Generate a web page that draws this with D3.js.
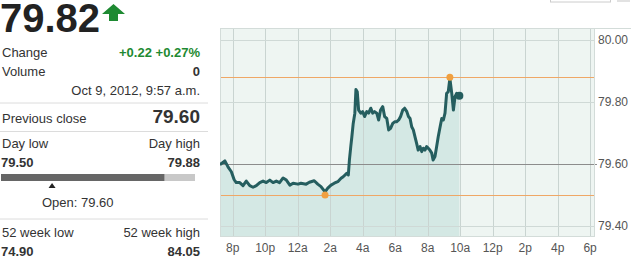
<!DOCTYPE html>
<html>
<head>
<meta charset="utf-8">
<script src="https://cdn.jsdelivr.net/npm/d3@7"></script>
<style>
body { margin: 0; background: #fff; }
svg { display: block; font-family: "Liberation Sans", Arial, sans-serif; }
</style>
</head>
<body>
<div id="canvas"></div>
<script>
// intraday quote, Oct 8 evening -> Oct 9 2012 morning
var times = ["08 19:13","08 19:16","08 19:31","08 19:43","08 19:55","08 20:05","08 20:13","08 20:26","08 20:38","08 20:50",
    "08 21:03","08 21:15","08 21:27","08 21:40","08 21:52","08 22:04","08 22:17","08 22:29","08 22:41","08 22:53",
    "08 23:06","08 23:18","08 23:31","08 23:43","09 00:01","09 00:12","09 00:31","09 00:43","09 01:01","09 01:14",
    "09 01:26","09 01:41","09 01:51","09 02:03","09 02:15","09 02:28","09 02:40","09 02:48","09 03:01","09 03:07",
    "09 03:11","09 03:16","09 03:20","09 03:25","09 03:31","09 03:35","09 03:40","09 03:45","09 03:53","09 04:00",
    "09 04:07","09 04:15","09 04:22","09 04:30","09 04:37","09 04:44","09 04:52","09 04:59","09 05:06","09 05:14",
    "09 05:21","09 05:29","09 05:36","09 05:43","09 05:51","09 05:58","09 06:05","09 06:13","09 06:20","09 06:28",
    "09 06:35","09 06:43","09 06:49","09 06:55","09 07:01","09 07:07","09 07:13","09 07:19","09 07:25","09 07:32",
    "09 07:38","09 07:44","09 07:50","09 07:56","09 08:02","09 08:08","09 08:15","09 08:20","09 08:27","09 08:33",
    "09 08:39","09 08:46","09 08:52","09 08:58","09 09:04","09 09:10","09 09:16","09 09:22","09 09:29","09 09:35",
    "09 09:41","09 09:47","09 09:57"]
var prices = [79.60,79.60,79.61,79.59,79.575,79.55,79.54,79.54,79.53,79.545,
    79.53,79.525,79.53,79.54,79.545,79.54,79.548,79.54,79.545,79.54,
    79.555,79.548,79.532,79.538,79.535,79.538,79.535,79.541,79.546,79.535,
    79.527,79.51,79.522,79.532,79.538,79.543,79.554,79.559,79.57,79.565,
    79.613,79.656,79.688,79.731,79.764,79.84,79.833,79.774,79.764,79.769,
    79.753,79.769,79.764,79.78,79.764,79.769,79.764,79.742,79.774,79.785,
    79.753,79.747,79.71,79.715,79.731,79.736,79.736,79.742,79.753,79.774,
    79.78,79.769,79.753,79.747,79.72,79.71,79.688,79.667,79.645,79.656,
    79.64,79.651,79.645,79.656,79.651,79.645,79.635,79.613,79.624,79.656,
    79.688,79.72,79.747,79.742,79.764,79.828,79.833,79.876,79.828,79.774,
    79.817,79.828,79.82]

var timeDomain = ["08 19:13", "09 18:18"]
var yTicks = [80.00, 79.80, 79.60, 79.40]
var lowTime = "09 01:41"
var highTime = "09 09:22"

var last = 79.82
var change = "+0.22"
var changePct = "+0.27%"
var volume = "0"
var stamp = "Oct 9, 2012, 9:57 a.m."
var prevClose = 79.60
var dayLow = 79.50
var dayHigh = 79.88
var openPrice = 79.60
var weekLow = 74.90
var weekHigh = 84.05

var width = 631
var height = 259
var plot = { left: 220, right: 595, top: 28, bottom: 237 }

var parse = function (s) { return d3.timeParse("%Y-%m-%d %H:%M")("2012-10-" + s) }
var data = times.map(function (t, i) { return { date: parse(t), price: prices[i] } })

var svg = d3.select("#canvas")
    .append("svg")
    .attr("width", width)
    .attr("height", height)

// ---- left panel ----
var panel = svg.append("g")
var ink = "#333"
var green = "#1e8a32"
var rightEdge = 200

panel.append("text").attr("x", 0).attr("y", 32)
    .attr("font-size", 40).attr("font-weight", "bold").attr("fill", "#222")
    .text(last.toFixed(2))

panel.append("path")
    .attr("d", "M113.5,4 L125,14 L118,14 L118,21 L109,21 L109,14 L102,14 Z")
    .attr("fill", green)

function row(y, label, value, opts) {
    opts = opts || {}
    if (label) {
        panel.append("text").attr("x", 2).attr("y", y)
            .attr("font-size", 13).attr("fill", ink).text(label)
    }
    panel.append("text").attr("x", rightEdge).attr("y", y)
        .attr("text-anchor", "end")
        .attr("font-size", opts.size || 13)
        .attr("font-weight", opts.bold ? "bold" : "normal")
        .attr("fill", opts.color || ink)
        .text(value)
}

row(57, "Change", change + " " + changePct, { bold: true, color: green })
row(76, "Volume", volume, { bold: true })
row(95, null, stamp)
row(123, "Previous close", prevClose.toFixed(2), { bold: true, size: 19 })
row(148, "Day low", "Day high")
panel.append("text").attr("x", 1).attr("y", 167)
    .attr("font-size", 13).attr("font-weight", "bold").attr("fill", ink)
    .text(dayLow.toFixed(2))
row(167, null, dayHigh.toFixed(2), { bold: true })
row(237, "52 week low", "52 week high")
panel.append("text").attr("x", 1).attr("y", 256)
    .attr("font-size", 13).attr("font-weight", "bold").attr("fill", ink)
    .text(weekLow.toFixed(2))
row(256, null, weekHigh.toFixed(2), { bold: true })

;[103, 131.5, 219].forEach(function (y) {
    panel.append("line").attr("x1", 0).attr("x2", 208).attr("y1", y).attr("y2", y)
        .attr("stroke", "#dcdcdc")
})

// day range bar
var rangeScale = d3.scaleLinear().domain([dayLow, dayHigh]).range([1, 195])
panel.append("rect").attr("x", rangeScale(dayLow)).attr("y", 174)
    .attr("width", rangeScale(dayHigh) - rangeScale(dayLow)).attr("height", 7)
    .attr("fill", "#c8c8c8")
panel.append("rect").attr("x", rangeScale(dayLow)).attr("y", 174)
    .attr("width", rangeScale(last) - rangeScale(dayLow)).attr("height", 7)
    .attr("fill", "#666")
var ox = rangeScale(openPrice)
panel.append("path")
    .attr("d", "M" + ox + ",183 L" + (ox + 3.5) + ",188 L" + (ox - 3.5) + ",188 Z")
    .attr("fill", "#222")
panel.append("text").attr("x", 42).attr("y", 207)
    .attr("font-size", 13).attr("fill", ink)
    .text("Open: " + openPrice.toFixed(2))

// cropped bits of page chrome at top
svg.append("rect").attr("x", 550.5).attr("y", -10).attr("width", 60).attr("height", 12)
    .attr("fill", "none").attr("stroke", "#ccc")
svg.append("rect").attr("x", 617).attr("y", -10).attr("width", 13).attr("height", 12)
    .attr("fill", "#e2e2e2")

// ---- chart ----
var xScale = d3.scaleTime().domain(timeDomain.map(parse)).range([plot.left, plot.right])
var yScale = d3.scaleLinear().domain([79.40, 80.00]).range([226, 40])

svg.append("rect")
    .attr("x", plot.left).attr("y", plot.top)
    .attr("width", plot.right - plot.left).attr("height", plot.bottom - plot.top)
    .attr("fill", "#eef5f2")

svg.append("line").attr("x1", plot.left).attr("x2", width)
    .attr("y1", plot.top + 0.5).attr("y2", plot.top + 0.5).attr("stroke", "#d3dcd9")

svg.append("clipPath").attr("id", "clip")
    .append("rect")
    .attr("x", plot.left).attr("y", plot.top)
    .attr("width", plot.right - plot.left).attr("height", plot.bottom - plot.top)

var area = d3.area()
    .x(function (d) { return xScale(d.date) })
    .y0(plot.bottom)
    .y1(function (d) { return yScale(d.price) })

svg.append("path").datum(data)
    .attr("clip-path", "url(#clip)")
    .attr("d", area)
    .attr("fill", "#d4e8e4")

// grid
var hourTicks = xScale.ticks(d3.timeHour.every(2))
svg.append("g").selectAll("line").data(hourTicks).enter().append("line")
    .attr("x1", function (d) { return Math.round(xScale(d)) + 0.5 })
    .attr("x2", function (d) { return Math.round(xScale(d)) + 0.5 })
    .attr("y1", plot.top).attr("y2", plot.bottom)
    .attr("stroke", "#c9d4d1")

svg.append("g").selectAll("line").data(yTicks).enter().append("line")
    .attr("x1", plot.left).attr("x2", function (d) { return d === prevClose ? 597 : plot.right })
    .attr("y1", function (d) { return Math.round(yScale(d)) + 0.5 })
    .attr("y2", function (d) { return Math.round(yScale(d)) + 0.5 })
    .attr("stroke", function (d) { return d === prevClose ? "#8c8c8c" : "#cfd9d6" })

svg.append("g").selectAll("line").data([dayHigh, dayLow]).enter().append("line")
    .attr("x1", plot.left).attr("x2", plot.right)
    .attr("y1", function (d) { return Math.round(yScale(d)) + 0.5 })
    .attr("y2", function (d) { return Math.round(yScale(d)) + 0.5 })
    .attr("stroke", "#efa766")

svg.append("rect")
    .attr("x", plot.left + 0.5).attr("y", plot.top + 0.5)
    .attr("width", plot.right - plot.left - 1).attr("height", plot.bottom - plot.top - 1)
    .attr("fill", "none").attr("stroke", "#d3dcd9")

// price line
var line = d3.line()
    .x(function (d) { return xScale(d.date) })
    .y(function (d) { return yScale(d.price) })

svg.append("path").datum(data)
    .attr("clip-path", "url(#clip)")
    .attr("d", line)
    .attr("fill", "none")
    .attr("stroke", "#255e5f")
    .attr("stroke-width", 3)
    .attr("stroke-linejoin", "round")

svg.append("circle").attr("cx", xScale(parse(lowTime))).attr("cy", yScale(dayLow))
    .attr("r", 3.5).attr("fill", "#f0a040")
svg.append("circle").attr("cx", xScale(parse(highTime))).attr("cy", yScale(dayHigh))
    .attr("r", 3.5).attr("fill", "#f0a040")
var end = data[data.length - 1]
svg.append("circle").attr("cx", xScale(end.date)).attr("cy", yScale(end.price))
    .attr("r", 4).attr("fill", "#255e5f")

// axes labels
var hourFormat = function (d) {
    var h = d.getHours()
    return (h % 12 || 12) + (h < 12 ? "a" : "p")
}
svg.append("g").selectAll("text").data(hourTicks).enter().append("text")
    .attr("x", function (d) { return xScale(d) })
    .attr("y", 252)
    .attr("text-anchor", "middle")
    .attr("font-size", 12).attr("fill", "#555")
    .text(hourFormat)

svg.append("g").selectAll("text").data(yTicks).enter().append("text")
    .attr("x", 598)
    .attr("y", function (d) { return yScale(d) + 4 })
    .attr("font-size", 12).attr("fill", "#555")
    .text(function (d) { return d.toFixed(2) })
</script>
</body>
</html>
